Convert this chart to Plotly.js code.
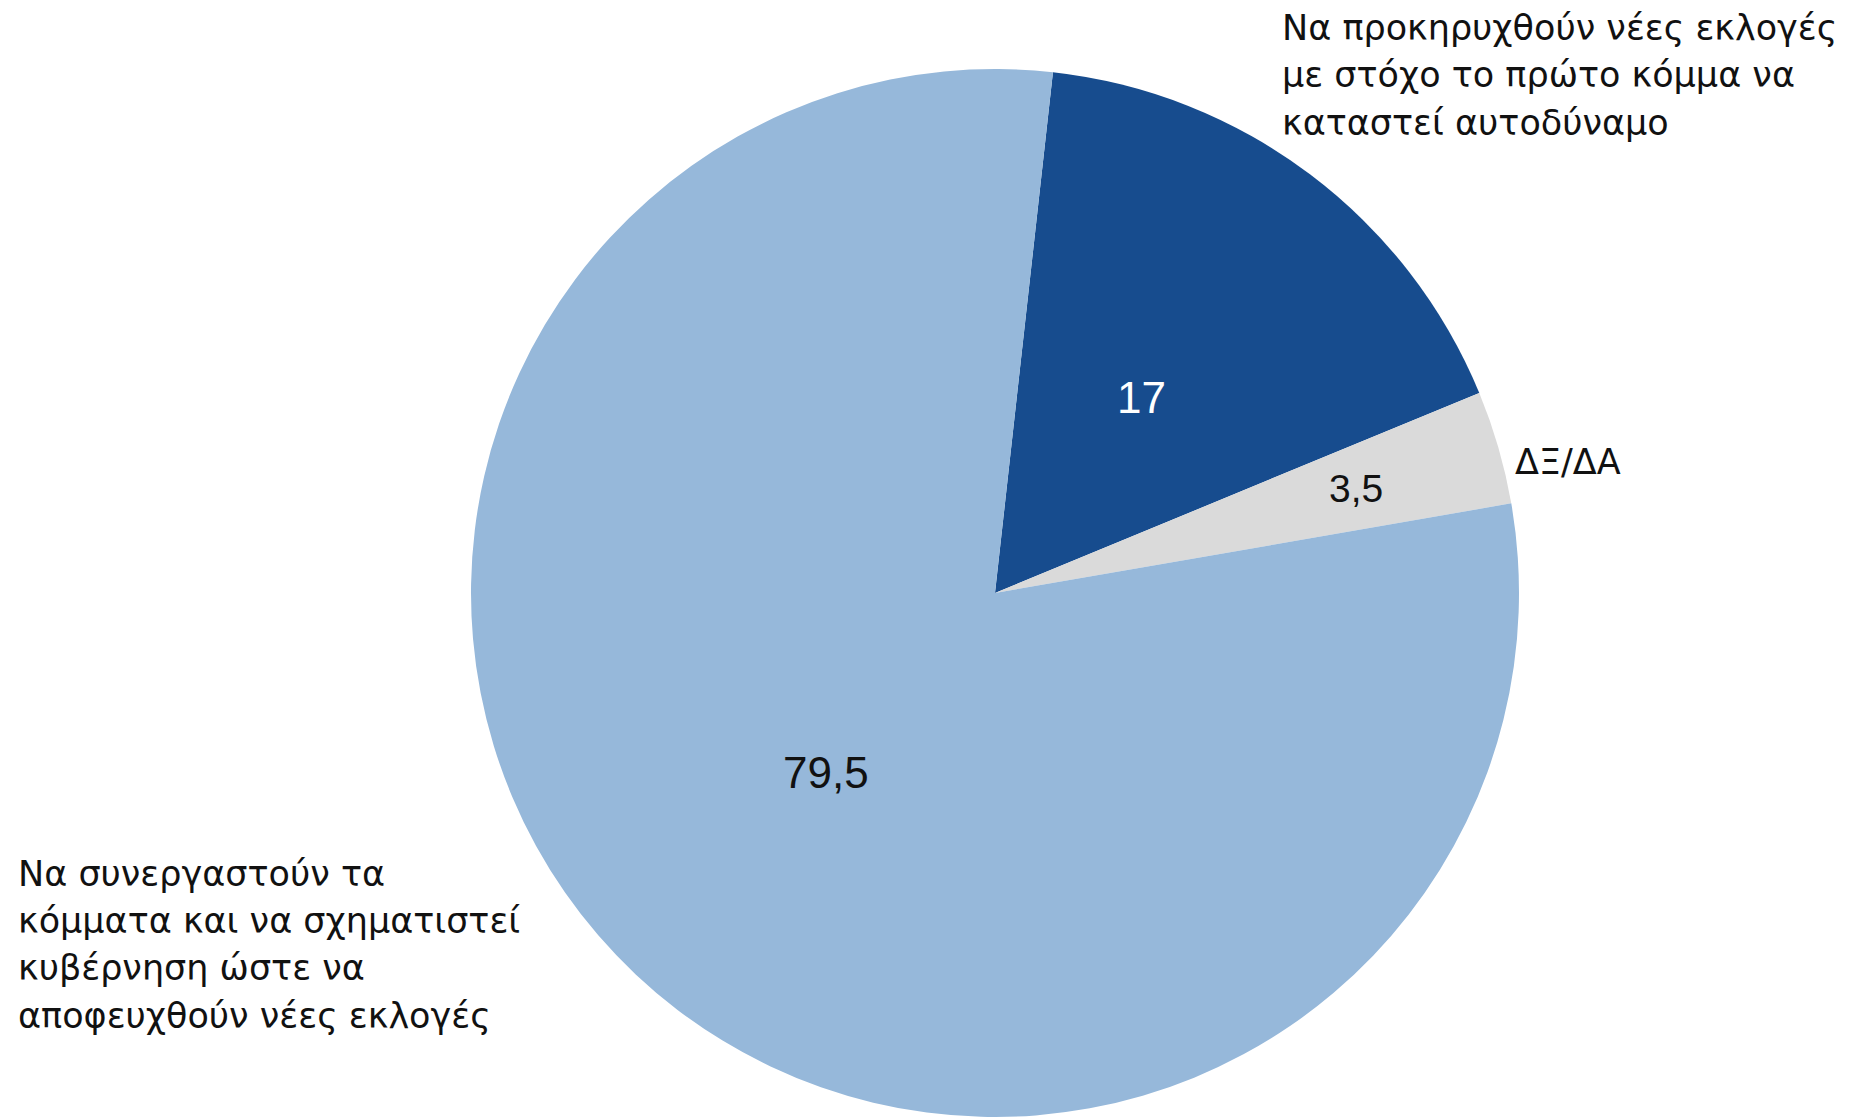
<!DOCTYPE html>
<html>
<head>
<meta charset="utf-8">
<script src="https://cdn.plot.ly/plotly-3.0.1.min.js"></script>
<style>
html,body{margin:0;padding:0;background:#fff;}
#chart{width:1854px;height:1117px;}
</style>
</head>
<body>
<div id="chart"></div>
<script>
// Data
var categories = [
  "Να προκηρυχθούν νέες εκλογές με στόχο το πρώτο κόμμα να καταστεί αυτοδύναμο",
  "ΔΞ/ΔΑ",
  "Να συνεργαστούν τα κόμματα και να σχηματιστεί κυβέρνηση ώστε να αποφευχθούν νέες εκλογές"
];
var values = [17, 3.5, 79.5];
var labelLines = [
  ["Να προκηρυχθούν νέες εκλογές", "με στόχο το πρώτο κόμμα να", "καταστεί αυτοδύναμο"],
  ["ΔΞ/ΔΑ"],
  ["Να συνεργαστούν τα", "κόμματα και να σχηματιστεί", "κυβέρνηση ώστε να", "αποφευχθούν νέες εκλογές"]
];

// Styles
var colors = ["#174C8E", "#DADADA", "#96B8DA"];
var textColors = ["#ffffff", "#111111", "#111111"];
var textSizes = [44, 39, 44];
var textRadius = [0.466, 0.717, 0.47];   // fraction of radius where value label sits
var VALFONT = "'Liberation Sans', Arial, Helvetica, sans-serif";
var LABFONT = "'DejaVu Sans', 'Liberation Sans', sans-serif";
var LABSIZE = 35;
var W = 1854, H = 1117;
var ROT = 6.35;
var domX = [470.5 / W, 1519.5 / W], domY = [0, 1 - 69 / H];

var valueText = values.map(function (v) { return String(v).replace('.', ','); });

var trace = {
  type: 'pie',
  labels: categories,
  values: values,
  textinfo: 'none',
  sort: false,
  direction: 'clockwise',
  rotation: ROT,
  hoverinfo: 'label+value',
  marker: { colors: colors, line: { width: 0 } },
  domain: { x: domX, y: domY },
  showlegend: false
};

// value labels placed along each slice's mid-angle
var cx = (domX[0] + domX[1]) / 2 * W;
var cy = (1 - (domY[0] + domY[1]) / 2) * H;
var R = Math.min((domX[1] - domX[0]) * W, (domY[1] - domY[0]) * H) / 2;
var total = values.reduce(function (a, b) { return a + b; }, 0);
var annotations = [];
var cum = 0;
values.forEach(function (v, i) {
  var mid = (ROT + 360 * (cum + v / 2) / total) * Math.PI / 180;
  cum += v;
  var px = cx + textRadius[i] * R * Math.sin(mid);
  var py = cy - textRadius[i] * R * Math.cos(mid);
  annotations.push({
    xref: 'paper', yref: 'paper', x: px / W, y: 1 - py / H,
    xanchor: 'center', yanchor: 'middle', showarrow: false,
    text: valueText[i],
    font: { family: VALFONT, size: textSizes[i], color: textColors[i] }
  });
});

// category label blocks (left x px, first line centre y px, line pitch px)
var blocks = [
  { x: 1279.5, y: 28, pitch: 47.5 },
  { x: 1513, y: 461.5, pitch: 47.5 },
  { x: 15.5, y: 874, pitch: 47.2 }
];
labelLines.forEach(function (lines, i) {
  lines.forEach(function (line, j) {
    annotations.push({
      xref: 'paper', yref: 'paper',
      x: blocks[i].x / W,
      y: 1 - (blocks[i].y + j * blocks[i].pitch) / H,
      xanchor: 'left', yanchor: 'middle',
      text: line, showarrow: false,
      font: { family: LABFONT, size: LABSIZE, color: '#111111' }
    });
  });
});

var layout = {
  width: W, height: H,
  margin: { l: 0, r: 0, t: 0, b: 0 },
  paper_bgcolor: '#ffffff',
  plot_bgcolor: '#ffffff',
  annotations: annotations
};

Plotly.newPlot('chart', [trace], layout, { displayModeBar: false, staticPlot: true });
</script>
</body>
</html>
